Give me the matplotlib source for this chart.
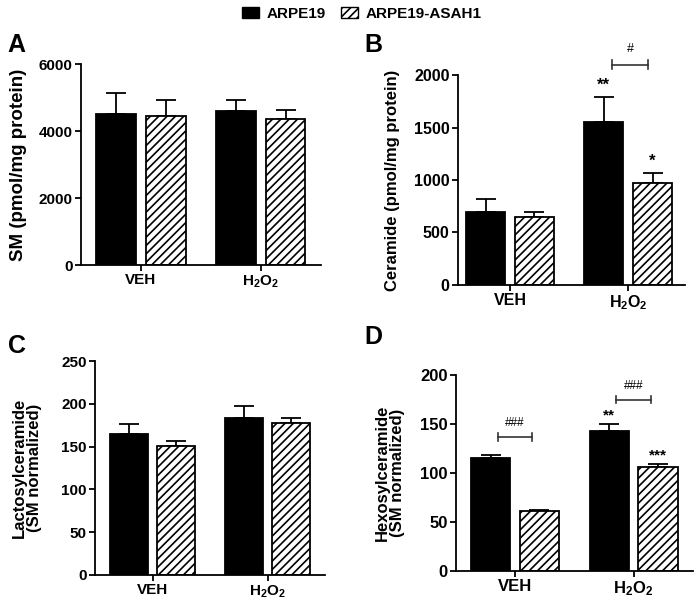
import numpy as np
import matplotlib.pyplot as plt
from matplotlib.patches import Patch

plt.rcParams['font.family'] = ['Liberation Sans', 'DejaVu Sans']
plt.rcParams['font.weight'] = 'bold'
plt.rcParams['mathtext.fontset'] = 'custom'
plt.rcParams['mathtext.rm'] = 'Liberation Sans:bold'
plt.rcParams['mathtext.bf'] = 'Liberation Sans:bold'
plt.rcParams['mathtext.it'] = 'Liberation Sans:bold'
plt.rcParams['hatch.linewidth'] = 1.2

# data
groups = ['VEH', 'H$_2$O$_2$']
series = ['ARPE19', 'ARPE19-ASAH1']

sm_mean = [[4500, 4600], [4450, 4350]]
sm_err = [[640, 340], [490, 280]]

cer_mean = [[695, 1550], [645, 970]]
cer_err = [[120, 245], [50, 95]]

lac_mean = [[165, 183], [151, 177]]
lac_err = [[11, 15], [6, 7]]

hex_mean = [[115, 143], [61.5, 106]]
hex_err = [[3.5, 7], [1.2, 3.3]]

panels = [
    dict(letter='A', mean=sm_mean, err=sm_err, ylim=6000, yticks=[0, 2000, 4000, 6000],
         ylabel='SM (pmol/mg protein)', pos=[0.1162, 0.559, 0.3443, 0.3344], lx=0.011, ly=0.925,
         ylx=-0.225, yfs=13.5, tfs=11),
    dict(letter='B', mean=cer_mean, err=cer_err, ylim=2000, yticks=[0, 500, 1000, 1500, 2000],
         ylabel='Ceramide (pmol/mg protein)', pos=[0.657, 0.5258, 0.3257, 0.3494], lx=0.523, ly=0.925,
         ylx=-0.256, yfs=12, tfs=11.5),
    dict(letter='C', mean=lac_mean, err=lac_err, ylim=250, yticks=[0, 50, 100, 150, 200, 250],
         ylabel='Lactosylceramide\n(SM normalized)', pos=[0.1363, 0.0433, 0.33, 0.356], lx=0.011, ly=0.425,
         ylx=-0.23, yfs=12, tfs=11),
    dict(letter='D', mean=hex_mean, err=hex_err, ylim=200, yticks=[0, 50, 100, 150, 200],
         ylabel='Hexosylceramide\n(SM normalized)', pos=[0.654, 0.0499, 0.34, 0.326], lx=0.523, ly=0.44,
         ylx=-0.215, yfs=12, tfs=12),
]

fig = plt.figure(figsize=(6.97, 6.01), dpi=100)

x = np.arange(len(groups))
off = 0.206
w = 0.33
axes = {}
for p in panels:
    ax = fig.add_axes(p['pos'])
    axes[p['letter']] = ax
    m = p['mean']
    e = p['err']
    ax.bar(x - off, m[0], w, color='black', edgecolor='black', linewidth=1.3, zorder=2)
    ax.bar(x + off, m[1], w, color='white', edgecolor='black', linewidth=1.3, hatch='////', zorder=2)
    ax.errorbar(x - off, m[0], yerr=[np.zeros(2), e[0]], fmt='none', ecolor='black',
                elinewidth=1.3, capsize=7, capthick=1.3, zorder=1)
    ax.errorbar(x + off, m[1], yerr=[np.zeros(2), e[1]], fmt='none', ecolor='black',
                elinewidth=1.3, capsize=7, capthick=1.3, zorder=1)
    ax.set_xlim(-0.5, 1.5)
    ax.set_ylim(0, p['ylim'])
    ax.set_yticks(p['yticks'])
    ax.set_xticks(x)
    ax.set_xticklabels(groups, fontsize=p['tfs'], fontweight='bold')
    ax.tick_params(axis='y', labelsize=p['tfs'], width=1.3, length=4, pad=2)
    ax.tick_params(axis='x', width=1.3, length=4, pad=2)
    for t in ax.get_yticklabels():
        t.set_fontweight('bold')
    ax.spines['top'].set_visible(False)
    ax.spines['right'].set_visible(False)
    ax.spines['left'].set_linewidth(1.3)
    ax.spines['bottom'].set_linewidth(1.3)
    ax.set_ylabel(p['ylabel'], fontsize=p['yfs'], fontweight='bold', linespacing=1.0)
    ax.yaxis.set_label_coords(p['ylx'], 0.5)
    fig.text(p['lx'], p['ly'], p['letter'], fontsize=18, fontweight='bold', ha='left', va='center')

axes['B'].set_xlim(-0.44, 1.48)


def bracket(ax, x0, x1, y, h, label, fs):
    ax.plot([x0, x1], [y, y], color='#333333', lw=1.2, clip_on=False)
    ax.plot([x0, x0], [y - h, y + h], color='#333333', lw=1.2, clip_on=False)
    ax.plot([x1, x1], [y - h, y + h], color='#333333', lw=1.2, clip_on=False)
    ax.text((x0 + x1) / 2, y + 2 * h, label, ha='center', va='bottom', fontsize=fs,
            fontweight='normal', clip_on=False)


# panel B annotations
ax = axes['B']
bracket(ax, 1 - off + 0.07, 1 + off - 0.04, 2100, 45, '#', 9)
ax.text(1 - off, cer_mean[0][1] + cer_err[0][1] + 40, '**', ha='center', va='bottom', fontsize=12)
ax.text(1 + off, cer_mean[1][1] + cer_err[1][1] + 40, '*', ha='center', va='bottom', fontsize=12)

# panel D annotations
ax = axes['D']
bracket(ax, 0 - off + 0.06, 0 + off - 0.06, 136.5, 4, '###', 8.5)
bracket(ax, 1 - off + 0.06, 1 + off - 0.06, 175, 4, '###', 8.5)
ax.text(1 - off, hex_mean[0][1] + hex_err[0][1] + 2, '**', ha='center', va='bottom', fontsize=11)
ax.text(1 + off, hex_mean[1][1] + hex_err[1][1] + 2, '***', ha='center', va='bottom', fontsize=11)

handles = [Patch(facecolor='black', edgecolor='black', label=series[0]),
           Patch(facecolor='white', edgecolor='black', hatch='////', label=series[1])]
fig.legend(handles=handles, loc='upper center', bbox_to_anchor=(0.519, 1.012), ncol=2,
           frameon=False, prop={'size': 11, 'weight': 'bold'}, handlelength=1.1,
           handleheight=0.8, columnspacing=1.0, handletextpad=0.5)

fig.savefig('out.png', dpi=100)
